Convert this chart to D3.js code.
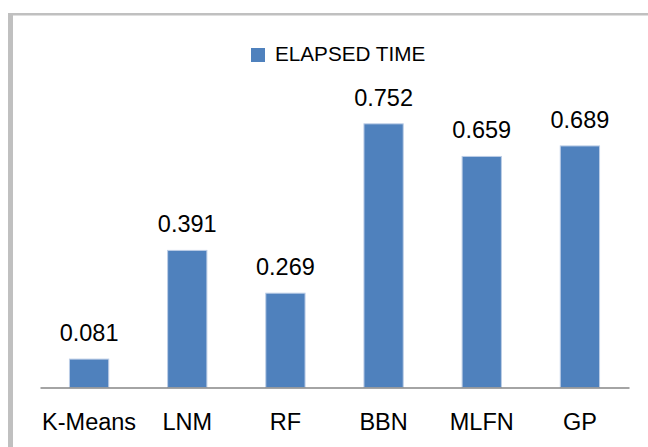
<!DOCTYPE html>
<html>
<head>
<meta charset="utf-8">
<script src="https://cdn.jsdelivr.net/npm/d3@7"></script>
<style>
  body { margin: 0; background: #fff; }
  text { font-family: "Liberation Sans", Arial, sans-serif; fill: #000; }
</style>
</head>
<body>
<div id="chart"></div>
<script>
// data
var categories = ["K-Means", "LNM", "RF", "BBN", "MLFN", "GP"];
var elapsed = [0.081, 0.391, 0.269, 0.752, 0.659, 0.689];
var seriesName = "ELAPSED TIME";

var data = categories.map(function(c, i) { return { name: c, value: elapsed[i] }; });

var W = 648, H = 447;
var margin = {top: 107, right: 19, bottom: 59.5, left: 40},
    width = W - margin.left - margin.right,
    height = H - margin.top - margin.bottom;

var svg = d3.select("#chart")
  .append("svg")
    .attr("width", W)
    .attr("height", H);

// frame (top + left edges only visible)
svg.append("rect").attr("x", 8).attr("y", 13).attr("width", W).attr("height", 2.5).attr("fill", "#c0c0c0");
svg.append("rect").attr("x", 8).attr("y", 13).attr("width", 5).attr("height", H).attr("fill", "#c0c0c0");

var g = svg.append("g")
  .attr("transform", "translate(" + margin.left + "," + margin.top + ")");

var x = d3.scaleBand()
  .domain(categories)
  .range([0, width])
  .paddingInner(0.6)
  .paddingOuter(0.3);

var y = d3.scaleLinear()
  .domain([0, 0.8])
  .range([height, 0]);

// bars
g.selectAll("rect.bar")
  .data(data)
  .enter()
  .append("rect")
    .attr("class", "bar")
    .attr("x", function(d) { return x(d.name); })
    .attr("y", function(d) { return y(d.value); })
    .attr("width", x.bandwidth())
    .attr("height", function(d) { return height - y(d.value); })
    .attr("fill", "#4f81bd")
    .attr("stroke", "#bccde6")
    .attr("stroke-width", 1);

// value labels
g.selectAll("text.val")
  .data(data)
  .enter()
  .append("text")
    .attr("class", "val")
    .attr("x", function(d) { return x(d.name) + x.bandwidth() / 2; })
    .attr("y", function(d) { return y(d.value) - 18; })
    .attr("text-anchor", "middle")
    .style("font-size", "23.5px")
    .text(function(d) { return d.value.toFixed(3); });

// x axis
var xAxis = g.append("g")
  .attr("transform", "translate(0," + height + ")")
  .call(d3.axisBottom(x).tickSize(0).tickPadding(26));
xAxis.select(".domain").attr("stroke", "#868686").attr("stroke-width", 1.5);
xAxis.selectAll("text").style("font-size", "23.5px");

// legend
var legend = svg.append("g").attr("transform", "translate(251,48)");
legend.append("rect").attr("width", 14).attr("height", 14).attr("fill", "#4f81bd");
legend.append("text").attr("x", 24).attr("y", 13).style("font-size", "20.7px").text(seriesName);
</script>
</body>
</html>
